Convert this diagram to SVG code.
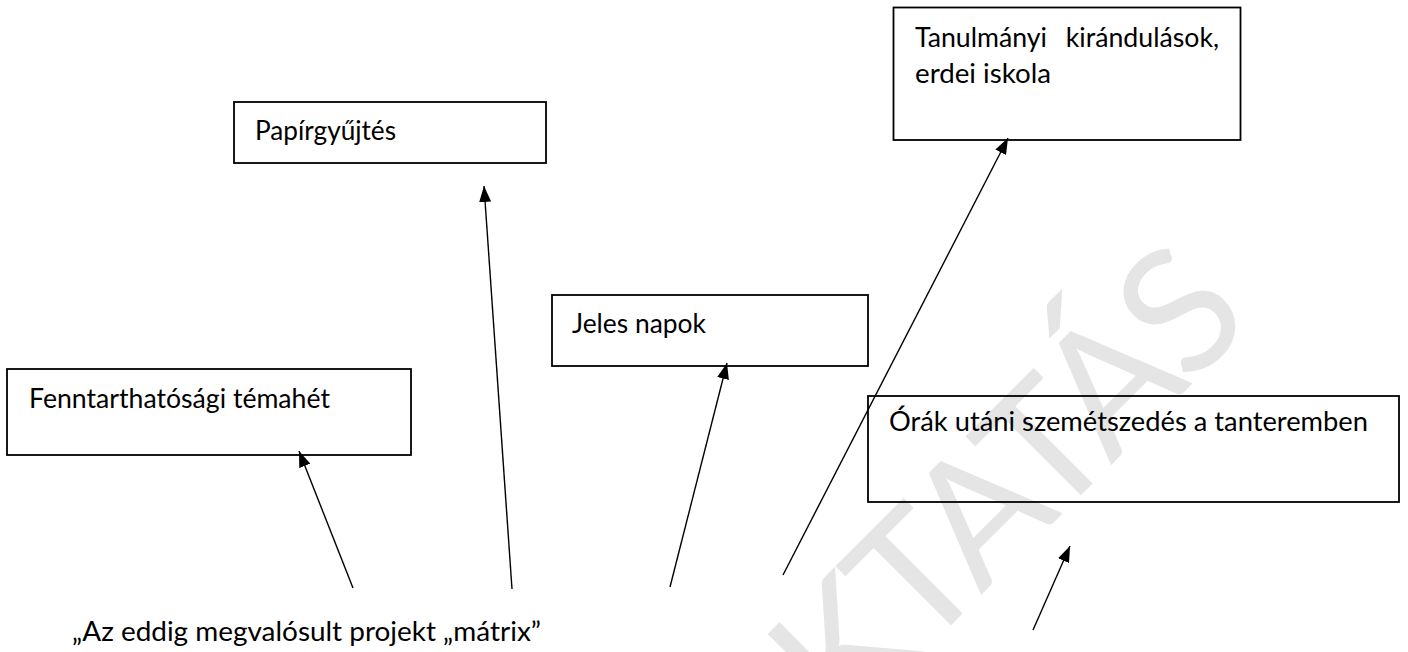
<svg xmlns="http://www.w3.org/2000/svg" width="1408" height="652" viewBox="0 0 1408 652">
  <style>
    .box { fill: none; stroke: #000; stroke-width: 1.8; }
    .lbl { font-family: Lato, "Open Sans", "Liberation Sans", sans-serif; font-size: 27px; fill: #000; }
    .con { stroke: #000; stroke-width: 1.4; fill: none; }
    .wm { font-family: Lato, "Open Sans", "Liberation Sans", sans-serif; font-size: 172px; fill: #e5e5e5; letter-spacing: -5px; }
  </style>
  <defs>
    <marker id="arrow" viewBox="0 0 16 12" refX="16" refY="6" markerWidth="16" markerHeight="12" markerUnits="userSpaceOnUse" orient="auto">
      <path d="M0,0 L16,6 L0,12 z" fill="#000"/>
    </marker>
  </defs>
  <rect x="0" y="0" width="1408" height="652" fill="#fff"/>

  <g id="watermark">
    <text class="wm" transform="translate(750,826) rotate(-45)">OKTATÁS</text>
  </g>

  <g id="node-papirgyujtes">
    <rect class="box" x="234" y="102" width="312" height="61"/>
    <text class="lbl" x="255" y="140" textLength="141" lengthAdjust="spacingAndGlyphs">Papírgyűjtés</text>
  </g>

  <g id="node-tanulmanyi">
    <rect class="box" x="893.5" y="7.5" width="347" height="132.5"/>
    <text class="lbl" x="915" y="47" word-spacing="12" textLength="304" lengthAdjust="spacingAndGlyphs">Tanulmányi kirándulások,</text>
    <text class="lbl" x="915" y="83" textLength="136" lengthAdjust="spacingAndGlyphs">erdei iskola</text>
  </g>

  <g id="node-jeles">
    <rect class="box" x="552" y="295" width="316" height="71"/>
    <text class="lbl" x="572" y="333" textLength="134" lengthAdjust="spacingAndGlyphs">Jeles napok</text>
  </g>

  <g id="node-fenntarthatosagi">
    <rect class="box" x="7" y="369" width="404" height="86"/>
    <text class="lbl" x="29" y="408" textLength="301" lengthAdjust="spacingAndGlyphs">Fenntarthatósági témahét</text>
  </g>

  <g id="node-orak">
    <rect class="box" x="868" y="396" width="531" height="106"/>
    <text class="lbl" x="889" y="431" textLength="479" lengthAdjust="spacingAndGlyphs">Órák utáni szemétszedés a tanteremben</text>
  </g>

  <g id="node-matrix">
    <text class="lbl" x="72" y="641" textLength="469" lengthAdjust="spacingAndGlyphs">„Az eddig megvalósult projekt „mátrix”</text>
  </g>

  <g id="connectors">
    <line class="con" x1="353" y1="588" x2="299" y2="451" marker-end="url(#arrow)"/>
    <line class="con" x1="512" y1="589" x2="484" y2="186" marker-end="url(#arrow)"/>
    <line class="con" x1="670" y1="587" x2="727" y2="363" marker-end="url(#arrow)"/>
    <line class="con" x1="783" y1="575" x2="1008" y2="138" marker-end="url(#arrow)"/>
    <line class="con" x1="1033" y1="630" x2="1070" y2="546" marker-end="url(#arrow)"/>
  </g>
</svg>
